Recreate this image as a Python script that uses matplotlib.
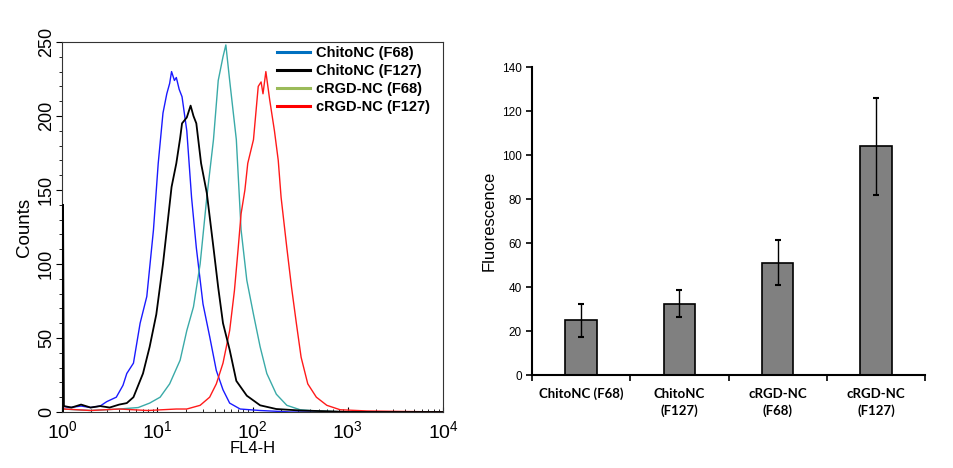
import numpy as np
import matplotlib
matplotlib.use("Agg")
import matplotlib.pyplot as plt
from matplotlib.lines import Line2D

plt.rcParams['font.family'] = ['Liberation Sans', 'DejaVu Sans']
plt.rcParams['mathtext.fontset'] = 'custom'
plt.rcParams['mathtext.rm'] = 'Liberation Sans'

# flow histograms: log10(FL4-H) and counts
blue_log = [0.0, 0.08, 0.2, 0.3, 0.4, 0.47, 0.57, 0.64, 0.68, 0.75, 0.82, 0.89, 0.96, 1.01,
            1.06, 1.10, 1.13, 1.15, 1.18, 1.20, 1.23, 1.26, 1.31, 1.36, 1.41, 1.48, 1.55,
            1.62, 1.69, 1.76, 1.87, 2.08, 2.4, 4.0]
blue_cnt = [4, 3, 4, 3, 4, 7, 10, 18, 26, 33, 60, 78, 123, 168,
            202, 215, 222, 230, 224, 226, 218, 213, 190, 145, 111, 73, 51,
            28, 15, 6, 2, 1, 0, 0]

black_log = [0.011, 0.011, 0.02, 0.1, 0.2, 0.3, 0.4, 0.5, 0.6, 0.68, 0.75, 0.85, 0.92, 0.99,
             1.06, 1.10, 1.15, 1.20, 1.24, 1.26, 1.31, 1.35, 1.38, 1.41, 1.46, 1.52, 1.59,
             1.64, 1.69, 1.76, 1.83, 1.94, 2.08, 2.25, 2.5, 2.78, 3.0, 4.0]
black_cnt = [0, 140, 4, 3, 5, 3, 4, 3, 5, 6, 10, 26, 44, 66,
             100, 123, 152, 168, 185, 195, 199, 207, 200, 195, 168, 148, 111,
             84, 60, 42, 21, 11, 4.5, 2, 1, 0.5, 0, 0]

teal_log = [0.0, 0.3, 0.6, 0.8, 0.92, 1.03, 1.13, 1.24, 1.31, 1.38, 1.45, 1.52, 1.59,
            1.64, 1.69, 1.72, 1.76, 1.83, 1.88, 1.94, 2.01, 2.08, 2.15, 2.25, 2.36,
            2.5, 2.67, 3.0, 4.0]
teal_cnt = [2, 1, 2, 3, 6, 10, 19, 35, 55, 71, 100, 145, 184,
            224, 240, 248, 224, 184, 123, 89, 66, 44, 26, 12, 4.5,
            1.5, 0.7, 0, 0]

red_log = [0.0, 0.02, 0.3, 0.6, 0.9, 1.2, 1.31, 1.45, 1.55, 1.62, 1.69, 1.76, 1.81, 1.85,
           1.88, 1.92, 1.95, 2.01, 2.06, 2.09, 2.11, 2.14, 2.18, 2.23, 2.27, 2.30, 2.36,
           2.41, 2.46, 2.51, 2.58, 2.67, 2.78, 2.92, 3.2, 4.0]
red_cnt = [8, 2, 1, 2, 1, 2, 2, 4.5, 10, 19, 33, 55, 82, 111,
           134, 150, 168, 184, 220, 223, 215, 230, 211, 190, 170, 145, 111,
           84, 60, 37, 19, 10, 4.5, 1.5, 0.7, 0]

legend_labels = ['ChitoNC (F68)', 'ChitoNC (F127)', 'cRGD-NC (F68)', 'cRGD-NC (F127)']

# bar chart
bar_labels = ['ChitoNC (F68)', 'ChitoNC\n(F127)', 'cRGD-NC\n(F68)', 'cRGD-NC\n(F127)']
fluorescence = [25, 32.5, 51, 104]
fluor_err = [7.5, 6, 10.3, 22]

fig = plt.figure(figsize=(9.54, 4.68), dpi=100)

ax1 = fig.add_axes([0.065, 0.1197, 0.3994, 0.7906])
ax1.plot(10 ** np.array(blue_log), blue_cnt, color='#1a1aff', lw=1)
ax1.plot(10 ** np.array(black_log), black_cnt, color='black', lw=1.3, zorder=3)
ax1.plot(10 ** np.array(teal_log), teal_cnt, color='#3aaaa8', lw=1)
ax1.plot(10 ** np.array(red_log), red_cnt, color='#ff1a1a', lw=1)
ax1.set_xscale('log')
ax1.set_xlim(1, 1e4)
ax1.set_ylim(0, 250)
ax1.set_xticks([1, 10, 100, 1000, 10000])
ax1.set_xticklabels([r'$\mathregular{10^{%d}}$' % i for i in range(5)], fontsize=14)
ax1.set_yticks(np.arange(0, 251, 50))
ax1.set_yticks(np.arange(0, 251, 10), minor=True)
ax1.set_yticklabels([str(v) for v in range(0, 251, 50)], rotation=90, va='center', fontsize=13)
ax1.tick_params(axis='x', which='both', direction='in', pad=6)
ax1.tick_params(axis='y', which='major', direction='out', length=4, pad=1)
ax1.tick_params(axis='y', which='minor', direction='out', length=2)
ax1.set_xlabel('FL4-H', fontsize=12, labelpad=-1)
ax1.set_ylabel('Counts', fontsize=13.5, labelpad=4)
for s in ax1.spines.values():
    s.set_color('#333333')

handles = [Line2D([], [], color=c, lw=2.2) for c in ['#0070c0', 'black', '#9bbb59', '#ff0000']]
leg = ax1.legend(handles, legend_labels, loc='upper right', bbox_to_anchor=(1.0, 1.025),
                 frameon=False, handlelength=2.3, handletextpad=0.4, labelspacing=0.28,
                 prop={'weight': 'bold', 'size': 10.5})

ax2 = fig.add_axes([0.5577, 0.1987, 0.412, 0.658])
xpos = np.arange(len(fluorescence))
ax2.bar(xpos, fluorescence, width=0.32, color='#808080', edgecolor='black', lw=1.2,
        yerr=fluor_err, capsize=2, error_kw={'elinewidth': 1, 'capthick': 1.5})
ax2.set_xlim(-0.5, 3.5)
ax2.set_ylim(0, 140)
ax2.set_yticks(np.arange(0, 141, 20))
ax2.set_yticklabels([str(v) for v in range(0, 141, 20)], fontsize=8.5)
ax2.set_xticks(np.arange(-0.5, 3.6, 1))
ax2.set_xticklabels([])
ax2.set_xticks(xpos, minor=True)
ax2.set_xticklabels(bar_labels, minor=True, fontsize=9.5, fontweight='bold', family='Lato',
                    linespacing=1.45)
ax2.tick_params(axis='x', which='minor', length=0, pad=9)
ax2.tick_params(axis='x', which='major', length=4, width=1.2)
ax2.tick_params(axis='y', length=4, width=1.2)
ax2.spines['top'].set_visible(False)
ax2.spines['right'].set_visible(False)
ax2.spines['left'].set_linewidth(1.5)
ax2.spines['bottom'].set_linewidth(1.5)
ax2.set_ylabel('Fluorescence', fontsize=12, labelpad=4)

fig.savefig('out.png', dpi=100)
